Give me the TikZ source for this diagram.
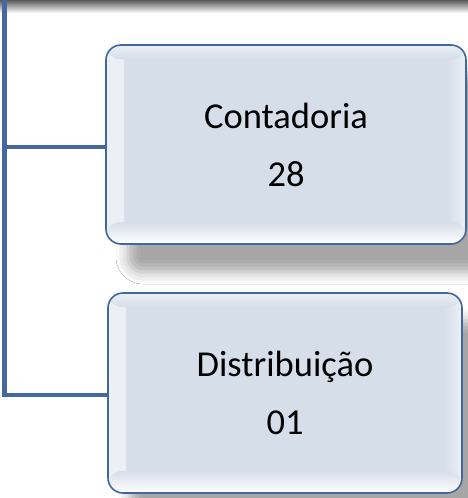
\documentclass[tikz,border=0pt]{standalone}
\usepackage{fontspec}
\setmainfont{Carlito}
\usetikzlibrary{shadows.blur}
\definecolor{boxfill}{HTML}{D6DEEA}
\definecolor{boxline}{HTML}{41689C}
\definecolor{trunk}{HTML}{43699F}
\tikzset{
  orgbox/.style={draw=boxline, line width=1.6pt, fill=boxfill, rounded corners=15pt,
    align=center, font=\fontsize{36.5}{58}\selectfont, inner sep=0pt,
    blur shadow={shadow xshift=22pt, shadow yshift=-28pt, shadow blur radius=12pt, shadow opacity=35},
    path picture={
      \fill[left color=white!55!boxfill, right color=boxfill]
        (path picture bounding box.south west) rectangle ([xshift=18pt]path picture bounding box.north west);
      \fill[right color=white!55!boxfill, left color=boxfill]
        ([xshift=-18pt]path picture bounding box.south east) rectangle (path picture bounding box.north east);
      \fill[bottom color=boxfill, top color=white!50!boxfill]
        ([yshift=-14pt]path picture bounding box.north west) rectangle (path picture bounding box.north east);
      \fill[top color=boxfill, bottom color=white]
        ([yshift=22pt]path picture bounding box.south west) rectangle (path picture bounding box.south east);
    }},
  branch/.style={draw=trunk, line width=4.5pt}
}
\begin{document}
\begin{tikzpicture}[x=1pt,y=-1pt]
\useasboundingbox (0,0) rectangle (468,498);
\fill[white] (0,0) rectangle (468,498);
% shadow of the box above
\shade[top color=black!65, bottom color=white] (0,0) rectangle (468,13);
\node[orgbox, minimum width=360pt, minimum height=199pt] (b1) at (286,144.5) {Contadoria\\28};
\node[orgbox, minimum width=354pt, minimum height=200pt] (b2) at (285,393) {Distribuição\\01};
\coordinate (top) at (4.5,0);
\coordinate (j1) at (4.5,147);
\coordinate (j2) at (4.5,395);
\draw[branch] (top) -- (j2 |- 0,397) ;
\draw[branch] (j1) -- (j1 -| b1.west);
\draw[branch, line cap=rect] (j2) -- (j2 -| b2.west);
\end{tikzpicture}
\end{document}
